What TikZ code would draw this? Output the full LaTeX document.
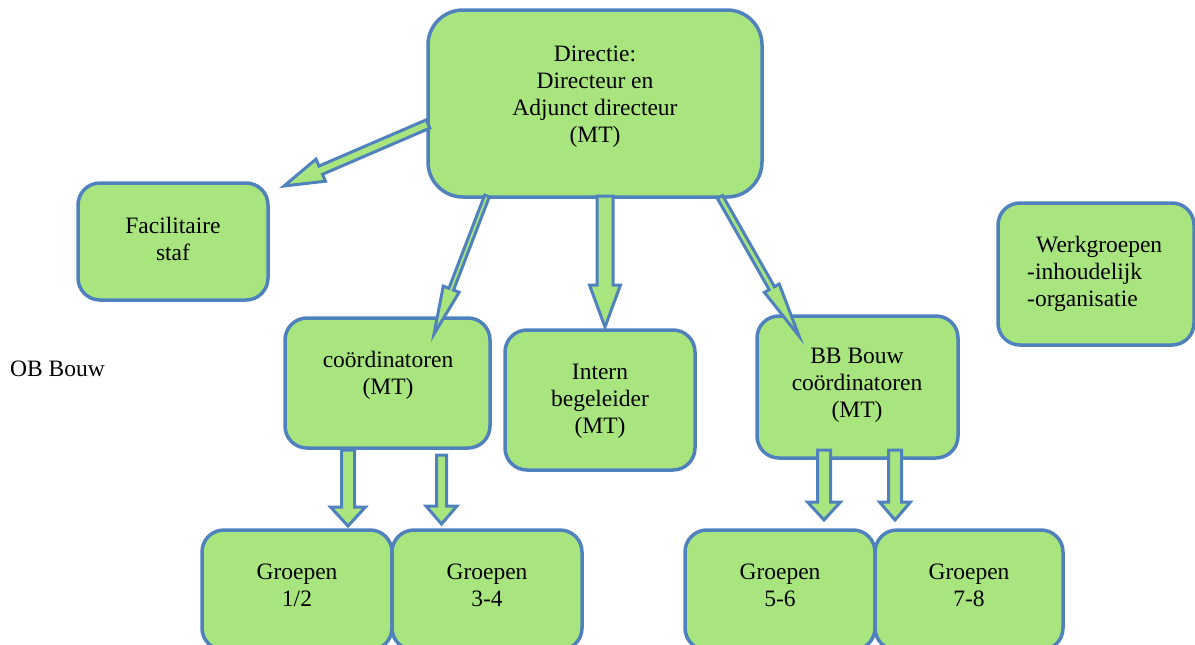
\documentclass[tikz,border=0pt]{standalone}
\usepackage{fontspec}
\setmainfont{Liberation Serif}
\usetikzlibrary{calc}
\definecolor{boxfill}{HTML}{A9E57F}
\definecolor{boxline}{HTML}{4F81BD}
\tikzset{
  box/.style={draw=boxline, fill=boxfill, line width=3.5pt, rounded corners=22pt, inner sep=0pt},
  bigbox/.style={box, rounded corners=35pt},
  txt/.style={align=center, font=\fontsize{23.5}{27}\selectfont, inner sep=0pt},
  blockarr/.style={draw=boxline, fill=boxfill, line width=3pt, line join=miter},
}
\newcommand\barrow[5]{%
  \coordinate (H) at ($(#2)!#5!(#1)$);
  \draw[blockarr] ($(#1)!#3!90:(#2)$) -- ($(H)!#3!90:(#2)$) -- ($(H)!#4!90:(#2)$) -- (#2)
    -- ($(H)!#4!-90:(#2)$) -- ($(H)!#3!-90:(#2)$) -- ($(#1)!#3!-90:(#2)$) -- cycle;}
\begin{document}
\begin{tikzpicture}[x=1pt,y=-1pt]
\useasboundingbox (0,0) rectangle (1195,645);
\clip (0,0) rectangle (1195,645);
% boxes
\node[bigbox, minimum width=334pt, minimum height=187pt] (dir) at (595,103.5) {};
\node[box, minimum width=190pt, minimum height=117pt] (fac) at (173,241.5) {};
\node[box, minimum width=196pt, minimum height=142pt] (wg) at (1096,274) {};
\node[box, minimum width=205pt, minimum height=130pt] (coo) at (387.5,383) {};
\node[box, minimum width=190pt, minimum height=140pt] (ib) at (600,400) {};
\node[box, minimum width=201pt, minimum height=142pt] (bb) at (857.5,387) {};
\node[box, minimum width=190pt, minimum height=120pt] (g12) at (297,590) {};
\node[box, minimum width=190pt, minimum height=120pt] (g34) at (487,590) {};
\node[box, minimum width=190pt, minimum height=120pt] (g56) at (780,590) {};
\node[box, minimum width=188pt, minimum height=120pt] (g78) at (969,590) {};
% texts
\node[txt] (dirT) at (595,96.5) {Directie:\\Directeur en\\Adjunct directeur\\(MT)};
\node[txt] (facT) at (173,238.5) {Facilitaire\\staf};
\node[txt, align=left, anchor=west] (wgT) at (1027,274) {\hspace*{9pt}Werkgroepen\\-inhoudelijk\\-organisatie};
\node[txt] (cooT) at (388,375.5) {coördinatoren\\(MT)};
\node[txt] (ibT) at (600,401) {Intern\\begeleider\\(MT)};
\node[txt] (bbT) at (857,385) {BB Bouw\\coördinatoren\\(MT)};
\node[txt] (g12T) at (297,585.5) {Groepen\\1/2};
\node[txt] (g34T) at (487,585.5) {Groepen\\3-4};
\node[txt] (g56T) at (780,585.5) {Groepen\\5-6};
\node[txt] (g78T) at (969,585.5) {Groepen\\7-8};
\node[txt, anchor=west] (ob) at (10,369) {OB Bouw};
% arrow end points
\coordinate (a1s) at (428,124);  \coordinate (a1e) at (284,186);
\coordinate (a2s) at (487,196);  \coordinate (a2e) at (434,334);
\coordinate (a3s) at (605,196);  \coordinate (a3e) at (605,327);
\coordinate (a4s) at (720,197);  \coordinate (a4e) at (799,336);
\coordinate (a5s) at (348,450);  \coordinate (a5e) at (348,526);
\coordinate (a6s) at (441.5,455);\coordinate (a6e) at (441.5,524);
\coordinate (a7s) at (824,450);  \coordinate (a7e) at (824,520);
\coordinate (a8s) at (895,450);  \coordinate (a8e) at (895,520);
% arrows
\barrow{a1s}{a1e}{4.5pt}{12pt}{40pt}
\barrow{a2s}{a2e}{2.5pt}{8.5pt}{48pt}
\barrow{a3s}{a3e}{8pt}{15.5pt}{42pt}
\barrow{a4s}{a4e}{3pt}{8.5pt}{55pt}
\barrow{a5s}{a5e}{6.5pt}{17.5pt}{19pt}
\barrow{a6s}{a6e}{5pt}{15.5pt}{18pt}
\barrow{a7s}{a7e}{6.5pt}{16.5pt}{18pt}
\barrow{a8s}{a8e}{6.5pt}{15.5pt}{18pt}
\end{tikzpicture}
\end{document}
